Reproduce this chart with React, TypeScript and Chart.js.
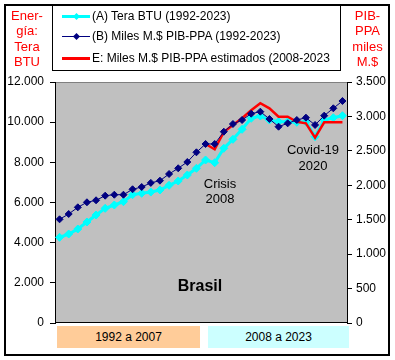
import React, { useEffect, useRef } from "react";
import { Chart, registerables } from "chart.js";

Chart.register(...registerables);

const years = [
  "1992", "1993", "1994", "1995", "1996", "1997", "1998", "1999",
  "2000", "2001", "2002", "2003", "2004", "2005", "2006", "2007",
  "2008", "2009", "2010", "2011", "2012", "2013", "2014", "2015",
  "2016", "2017", "2018", "2019", "2020", "2021", "2022", "2023",
];

// (A) Tera BTU (left axis)
const energyTeraBTU = [
  4267, 4431, 4680, 5029, 5377, 5711, 5875, 6040,
  6388, 6458, 6520, 6622, 6856, 7070, 7369, 7703,
  8116, 7981, 8698, 9146, 9644, 10192, 10307, 10107,
  10023, 10023, 9993, 10023, 9276, 10107, 10222, 10322,
];

// (B) Miles M.$ PIB-PPA (right axis)
const gdpPPA = [
  1506, 1583, 1680, 1753, 1782, 1849, 1863, 1863,
  1942, 1975, 2035, 2067, 2164, 2247, 2338, 2479,
  2600, 2600, 2778, 2890, 2948, 3040, 3069, 2963,
  2851, 2900, 2948, 2982, 2876, 3011, 3118, 3224,
];

// E: estimated PIB-PPA 2008-2023 (right axis)
const gdpEstimated = [
  null, null, null, null, null, null, null, null,
  null, null, null, null, null, null, null, null,
  2600, 2523, 2774, 2876, 2973, 3090, 3191, 3118,
  2996, 2996, 2923, 2900, 2691, 2915, 2915, 2915,
];

const legendLabels = [
  "(A) Tera BTU (1992-2023)",
  "(B) Miles M.$ PIB-PPA (1992-2023)",
  "E: Miles M.$ PIB-PPA estimados (2008-2023",
];

const leftTicks = { min: 0, max: 12000, step: 2000 };
const rightTicks = { min: 0, max: 3500, step: 500 };

const FONT = "'Liberation Sans', Arial, Helvetica, sans-serif";
const CYAN = "#00FFFF";
const NAVY = "#000080";
const RED = "#FF0000";

const fmt = (v: number) =>
  String(Math.round(v)).replace(/\B(?=(\d{3})+(?!\d))/g, ".");

const plotBg = {
  id: "plotBg",
  beforeDraw(chart: any) {
    const { ctx, chartArea: a } = chart;
    ctx.save();
    ctx.fillStyle = "#C0C0C0";
    ctx.fillRect(a.left, a.top, a.right - a.left, a.bottom - a.top);
    ctx.strokeStyle = "#808080";
    ctx.lineWidth = 1;
    ctx.beginPath();
    ctx.moveTo(a.left, a.top + 0.5);
    ctx.lineTo(a.right, a.top + 0.5);
    ctx.stroke();
    ctx.strokeStyle = "#000000";
    ctx.beginPath();
    ctx.moveTo(a.left, a.bottom - 0.5);
    ctx.lineTo(a.right, a.bottom - 0.5);
    ctx.stroke();
    ctx.restore();
  },
};

function LegendRow({
  y,
  color,
  lineWidth,
  marker,
  markerSize,
  label,
}: {
  y: number;
  color: string;
  lineWidth: number;
  marker: boolean;
  markerSize: number;
  label: string;
}) {
  return (
    <div
      style={{
        position: "absolute",
        left: 62,
        top: y - 7,
        height: 14,
        display: "flex",
        alignItems: "center",
        whiteSpace: "nowrap",
      }}
    >
      <div style={{ position: "relative", width: 28, height: 14 }}>
        <div
          style={{
            position: "absolute",
            left: 0,
            width: 28,
            top: 7 - lineWidth / 2,
            height: lineWidth,
            background: color,
          }}
        />
        {marker && (
          <div
            style={{
              position: "absolute",
              left: 14 - markerSize / 2,
              top: 7 - markerSize / 2,
              width: markerSize,
              height: markerSize,
              background: color,
              transform: "rotate(45deg)",
            }}
          />
        )}
      </div>
      <span style={{ marginLeft: 2, fontSize: 12, lineHeight: "14px" }}>{label}</span>
    </div>
  );
}

export default function App() {
  const canvasRef = useRef<HTMLCanvasElement | null>(null);

  useEffect(() => {
    const canvas = canvasRef.current;
    if (!canvas) return;
    const chart = new Chart(canvas, {
      type: "line",
      data: {
        labels: years,
        datasets: [
          {
            label: legendLabels[1],
            data: gdpPPA,
            yAxisID: "y1",
            borderColor: NAVY,
            backgroundColor: NAVY,
            borderWidth: 1,
            pointStyle: "rectRot",
            pointRadius: 3.5,
            pointBorderWidth: 1,
            pointBackgroundColor: NAVY,
            pointBorderColor: NAVY,
            tension: 0,
            order: 0,
          },
          {
            label: legendLabels[2],
            data: gdpEstimated as any,
            yAxisID: "y1",
            borderColor: RED,
            backgroundColor: RED,
            borderWidth: 2.5,
            pointRadius: 0,
            tension: 0,
            spanGaps: false,
            order: 1,
          },
          {
            label: legendLabels[0],
            data: energyTeraBTU,
            yAxisID: "y",
            borderColor: CYAN,
            backgroundColor: CYAN,
            borderWidth: 3,
            pointStyle: "rectRot",
            pointRadius: 4,
            pointBorderWidth: 1,
            pointBackgroundColor: CYAN,
            pointBorderColor: CYAN,
            tension: 0,
            order: 2,
          },
        ],
      },
      options: {
        responsive: false,
        animation: false,
        devicePixelRatio: 1,
        layout: { padding: { top: 82, bottom: 37, left: 0, right: 0 } },
        plugins: {
          legend: { display: false },
          tooltip: { enabled: false },
          title: { display: false },
        },
        scales: {
          x: {
            type: "category",
            display: false,
            offset: true,
          },
          y: {
            position: "left",
            min: leftTicks.min,
            max: leftTicks.max,
            ticks: {
              stepSize: leftTicks.step,
              callback: (v: any) => fmt(Number(v)),
              color: "#000",
              font: { family: FONT, size: 12 },
              padding: 6,
            },
            grid: {
              drawOnChartArea: false,
              drawTicks: true,
              tickLength: 5,
              color: "#000",
            },
            border: { display: true, color: "#000", width: 1 },
            afterFit: (s: any) => {
              s.width = 55;
            },
          },
          y1: {
            position: "right",
            min: rightTicks.min,
            max: rightTicks.max,
            ticks: {
              stepSize: rightTicks.step,
              callback: (v: any) => fmt(Number(v)),
              color: "#000",
              font: { family: FONT, size: 12 },
              padding: 4,
            },
            grid: {
              drawOnChartArea: false,
              drawTicks: true,
              tickLength: 5,
              color: "#000",
            },
            border: { display: true, color: "#000", width: 1 },
            afterFit: (s: any) => {
              s.width = 48;
            },
          },
        },
      } as any,
      plugins: [plotBg],
    });
    return () => chart.destroy();
  }, []);

  const abs = (extra: React.CSSProperties): React.CSSProperties => ({
    position: "absolute",
    pointerEvents: "none",
    ...extra,
  });

  return (
    <div
      style={{
        position: "absolute",
        left: 0,
        top: 0,
        width: 395,
        height: 360,
        background: "#fff",
        fontFamily: FONT,
        color: "#000",
        overflow: "hidden",
      }}
    >
      <canvas ref={canvasRef} width={395} height={360} style={{ position: "absolute", left: 0, top: 0 }} />

      {/* outer frame */}
      <div
        style={abs({
          left: 4,
          top: 4,
          width: 386,
          height: 352,
          border: "2px solid #000",
          boxSizing: "border-box",
        })}
      />
      {/* legend frame */}
      <div
        style={abs({
          left: 52,
          top: 4,
          width: 289,
          height: 67,
          border: "1px solid #000",
          boxSizing: "border-box",
        })}
      />
      <LegendRow y={16} color={CYAN} lineWidth={3} marker markerSize={5} label={legendLabels[0]} />
      <LegendRow y={36} color={NAVY} lineWidth={1} marker markerSize={5} label={legendLabels[1]} />
      <LegendRow y={58} color={RED} lineWidth={3} marker={false} markerSize={0} label={legendLabels[2]} />

      {/* axis titles */}
      <div
        style={abs({
          left: 6,
          top: 8,
          width: 42,
          textAlign: "center",
          color: RED,
          fontSize: 13,
          lineHeight: "15.3px",
        })}
      >
        Ener-<br />gía:<br />Tera<br />BTU
      </div>
      <div
        style={abs({
          left: 347,
          top: 8,
          width: 41,
          textAlign: "center",
          color: RED,
          fontSize: 13,
          lineHeight: "15.3px",
        })}
      >
        PIB-<br />PPA<br />miles<br />M.$
      </div>

      {/* annotations */}
      <div style={abs({ left: 190, top: 176, width: 60, textAlign: "center", fontSize: 13, lineHeight: "15px" })}>
        Crisis<br />2008
      </div>
      <div style={abs({ left: 278, top: 142, width: 70, textAlign: "center", fontSize: 13, lineHeight: "16px" })}>
        Covid-19<br />2020
      </div>
      <div
        style={abs({
          left: 160,
          top: 277,
          width: 80,
          textAlign: "center",
          fontSize: 16,
          fontWeight: "bold",
          lineHeight: "18px",
        })}
      >
        Brasil
      </div>

      {/* period boxes */}
      <div
        style={abs({
          left: 57,
          top: 326,
          width: 143,
          height: 22,
          background: "#FFCC99",
          textAlign: "center",
          fontSize: 12,
          lineHeight: "22px",
        })}
      >
        1992 a 2007
      </div>
      <div
        style={abs({
          left: 208,
          top: 326,
          width: 141,
          height: 22,
          background: "#CCFFFF",
          textAlign: "center",
          fontSize: 12,
          lineHeight: "22px",
        })}
      >
        2008 a 2023
      </div>
    </div>
  );
}
